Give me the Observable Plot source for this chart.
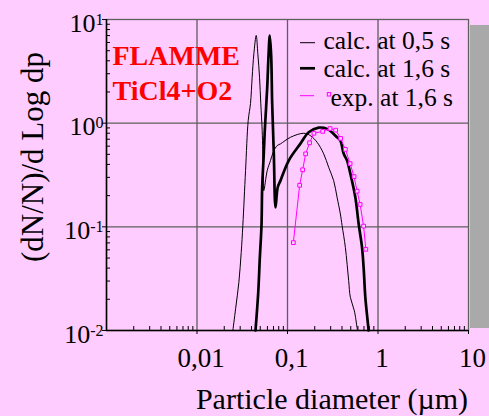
<!DOCTYPE html>
<html><head><meta charset="utf-8">
<script src="https://cdn.jsdelivr.net/npm/d3@7"></script>
<script src="https://cdn.jsdelivr.net/npm/@observablehq/plot@0.6"></script>
<style>
html,body{margin:0;padding:0;background:#FFCCFF;}
#chart{position:relative;width:489px;height:416px;overflow:hidden;}
</style></head><body><div id="chart"></div>
<script>
// calc. at 0,5 s (thin line)
const thinX = [0.0249, 0.0267, 0.0290, 0.0308, 0.0321, 0.0344, 0.0368, 0.0390, 0.0407, 0.0425, 0.0451, 0.0470, 0.0491, 0.0507, 0.0525, 0.0539, 0.0547, 0.0597, 0.0649, 0.0695, 0.0769, 0.0836, 0.1079, 0.151, 0.179, 0.2124, 0.2512, 0.285, 0.3237, 0.3529, 0.3838, 0.401, 0.4358, 0.474, 0.4948, 0.5477, 0.5866, 0.595];
const thinY = [0.0100, 0.0162, 0.0291, 0.0567, 0.103, 0.349, 1.06, 1.545, 2.77, 4.67, 7.01, 4.67, 2.77, 1.535, 0.848, 0.349, 0.224, 0.349, 0.436, 0.524, 0.608, 0.631, 0.731, 0.799, 0.759, 0.654, 0.506, 0.375, 0.279, 0.193, 0.133, 0.103, 0.0634, 0.0303, 0.0209, 0.0155, 0.0107, 0.0100];
// calc. at 1,6 s (thick line)
const thickX = [0.0443, 0.0475, 0.0494, 0.0516, 0.0525, 0.0547, 0.0561, 0.0597, 0.0617, 0.0637, 0.066, 0.0677, 0.0706, 0.0737, 0.078, 0.0836, 0.1032, 0.139, 0.1715, 0.2212, 0.2738, 0.3529, 0.3838, 0.4173, 0.4549, 0.4948, 0.5617, 0.611, 0.666, 0.6934, 0.7244, 0.7677, 0.788];
const thickY = [0.0100, 0.0233, 0.0493, 0.103, 0.241, 0.509, 0.848, 2.22, 4.49, 7.01, 4.49, 1.545, 0.509, 0.154, 0.241, 0.279, 0.436, 0.635, 0.817, 0.905, 0.881, 0.731, 0.679, 0.509, 0.436, 0.326, 0.193, 0.107, 0.0634, 0.0406, 0.0209, 0.01245, 0.0100];
// exp. at 1,6 s (magenta squares)
const expX = [0.116, 0.1362, 0.147, 0.1586, 0.1755, 0.1958, 0.2448, 0.2954, 0.3405, 0.3867, 0.4358, 0.4922, 0.5436, 0.5884, 0.6347, 0.6934, 0.7336];
const expY = [0.0704, 0.2516, 0.355, 0.5055, 0.647, 0.799, 0.833, 0.887, 0.856, 0.713, 0.5587, 0.4074, 0.3052, 0.2207, 0.1645, 0.1016, 0.0607];

const xMajor = [0.01, 0.1, 1, 10];
const xLabels = ["0,01", "0,1", "1", "10"];
const yMajor = [0.01, 0.1, 1, 10];
const yExp = ["-2", "-1", "0", "1"];
const xGrid = [0.01, 0.1, 1];
const yGrid = [0.1, 1];
const legendLabels = ["calc. at 0,5 s", "calc. at 1,6 s", "exp. at 1,6 s"];
const titleLines = ["FLAMME", "TiCl4+O2"];
const xTitle = "Particle diameter (µm)";
const yTitle = "(dN/N)/d Log dp";

const W = 489, H = 416, mL = 106, mR = 21, mT = 19, mB = 86;
const plotW = W - mL - mR, plotH = H - mT - mB;
const mult = [2,3,4,5,6,7,8,9];
const xMinor = [0.001, 0.01, 0.1, 1].flatMap(d => mult.map(m => d * m));
const yMinor = [0.01, 0.1, 1].flatMap(d => mult.map(m => d * m));

const thin = thinX.map((x, i) => ({x, y: thinY[i]}));
const thick = thickX.map((x, i) => ({x, y: thickY[i]}));
const exp = expX.map((x, i) => ({x, y: expY[i]}));
const MAG = "#ff00ff", GRID = "#5e5e5e";
const FONT = "'Liberation Serif', 'Times New Roman', serif";

const svg = Plot.plot({
  width: W, height: H, marginLeft: mL, marginRight: mR, marginTop: mT, marginBottom: mB,
  style: {background: "#FFCCFF", fontFamily: FONT, color: "black", overflow: "visible"},
  x: {type: "log", domain: [0.001, 10], axis: null},
  y: {type: "log", domain: [0.01, 10], axis: null},
  marks: [
    Plot.ruleX(xGrid, {stroke: GRID, strokeWidth: 1.3}),
    Plot.ruleY(yGrid, {stroke: GRID, strokeWidth: 1.3}),
    Plot.frame({stroke: GRID, strokeWidth: 1.3}),
    Plot.tickX(xMinor, {stroke: "black", strokeWidth: 1, insetTop: plotH - 4}),
    Plot.tickY(yMinor, {stroke: "black", strokeWidth: 1, insetRight: plotW - 4}),
    Plot.axisX(xMajor, {tickSize: 4, fill: "none", stroke: "black", label: null, tickFormat: () => ""}),
    Plot.axisX(xMajor, {tickSize: 0, stroke: "none", tickPadding: 17, fontSize: 27, dx: 4, label: null,
      tickFormat: d => xLabels[xMajor.indexOf(d)]}),
    Plot.axisY(yMajor, {tickSize: 4, fill: "none", stroke: "black", label: null, tickFormat: () => ""}),
    Plot.axisY(yMajor, {tickSize: 0, stroke: "none", tickPadding: 3, fontSize: 26, dy: 4, label: null,
      tickFormat: d => yExp[yMajor.indexOf(d)]}),
    Plot.ruleX([0.001], {stroke: "black", strokeWidth: 1.5}),
    Plot.ruleY([0.01], {stroke: "black", strokeWidth: 1.5}),
    Plot.line(thin, {x: "x", y: "y", stroke: "black", strokeWidth: 1, curve: "catmull-rom"}),
    Plot.line(thick, {x: "x", y: "y", stroke: "black", strokeWidth: 2.7, curve: "catmull-rom"}),
    Plot.line(exp, {x: "x", y: "y", stroke: MAG, strokeWidth: 1}),
    Plot.dot(exp, {x: "x", y: "y", symbol: "square", r: 2.1, stroke: MAG, strokeWidth: 1, fill: "#FFCCFF"}),
    ...titleLines.map((t, i) => Plot.text([t], {text: d => d, frameAnchor: "top-left", textAnchor: "start", lineAnchor: "middle",
      dx: 6, dy: 37 + i * 35, fontSize: 28, fontWeight: "bold", fill: "#ff0000"})),
    ...legendLabels.map((t, i) => Plot.text([t], {text: d => d, frameAnchor: "top-left", textAnchor: "start", lineAnchor: "middle",
      dx: i === 2 ? 224 : 217, dy: [21.3, 49.8, 78.8][i], fontSize: 25.5, fill: "black"})),
    Plot.text([xTitle], {text: d => d, frameAnchor: "bottom", textAnchor: "middle", lineAnchor: "middle", dx: 44.5, dy: 69, fontSize: 30, fill: "black"}),
    Plot.text([yTitle], {text: d => d, frameAnchor: "left", textAnchor: "middle", lineAnchor: "middle", rotate: -90, dx: -73, dy: -18, fontSize: 31, fill: "black"})
  ]
});

// superscript exponents on y tick labels
d3.select(svg).selectAll('g[aria-label="y-axis tick label"] text').each(function() {
  const t = d3.select(this);
  const e = t.text();
  t.text("10");
  t.append("tspan").attr("dy", "-0.45em").attr("font-size", 16).text(e);
});

// legend swatches
const lg = d3.select(svg).append("g");
lg.append("line").attr("x1", 300).attr("x2", 315).attr("y1", 42.7).attr("y2", 42.7).attr("stroke", "black").attr("stroke-width", 1);
lg.append("line").attr("x1", 300).attr("x2", 315).attr("y1", 68.3).attr("y2", 68.3).attr("stroke", "black").attr("stroke-width", 2.7);
lg.append("line").attr("x1", 300).attr("x2", 314).attr("y1", 95.7).attr("y2", 95.7).attr("stroke", MAG).attr("stroke-width", 1);
lg.append("rect").attr("x", 327.3).attr("y", 92.6).attr("width", 3.4).attr("height", 3.4).attr("fill", "none").attr("stroke", MAG).attr("stroke-width", 1);

// grey panel at right edge
d3.select(svg).append("rect").attr("x", 470).attr("y", 25).attr("width", 19).attr("height", 303).attr("fill", "#a9a9a9");

document.getElementById("chart").appendChild(svg);
</script></body></html>
